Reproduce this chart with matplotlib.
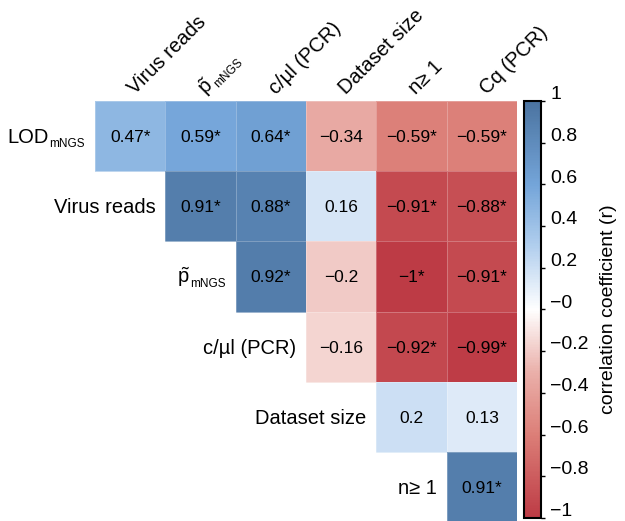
import numpy as np
import matplotlib
matplotlib.use("Agg")
import matplotlib.pyplot as plt
from matplotlib.colors import LinearSegmentedColormap
from matplotlib.transforms import offset_copy, ScaledTranslation

plt.rcParams['font.family'] = ['Liberation Sans', 'DejaVu Sans']
plt.rcParams['mathtext.fontset'] = 'custom'
plt.rcParams['mathtext.rm'] = 'Liberation Sans'
plt.rcParams['mathtext.it'] = 'Liberation Sans:italic'

# variables: (main text, subscript)
row_labels = [("LOD", "mNGS"), ("Virus reads", ""), (r"$\tilde{\mathrm{p}}$", "mNGS"),
              ("c/µl (PCR)", ""), ("Dataset size", ""), ("n≥ 1", "")]
col_labels = [("Virus reads", ""), (r"$\tilde{\mathrm{p}}$", "mNGS"), ("c/µl (PCR)", ""),
              ("Dataset size", ""), ("n≥ 1", ""), ("Cq (PCR)", "")]

# correlation coefficients (None = hidden half of the matrix)
r_lod = [0.47, 0.59, 0.64, -0.34, -0.59, -0.59]
r_reads = [None, 0.91, 0.88, 0.16, -0.91, -0.88]
r_p = [None, None, 0.92, -0.2, -1, -0.91]
r_cpcr = [None, None, None, -0.16, -0.92, -0.99]
r_size = [None, None, None, None, 0.2, 0.13]
r_n1 = [None, None, None, None, None, 0.91]

# significance flags
sig_lod = [1, 1, 1, 0, 1, 1]
sig_reads = [0, 1, 1, 0, 1, 1]
sig_p = [0, 0, 1, 0, 1, 1]
sig_cpcr = [0, 0, 0, 0, 1, 1]
sig_size = [0, 0, 0, 0, 0, 0]
sig_n1 = [0, 0, 0, 0, 0, 1]

rows = [r_lod, r_reads, r_p, r_cpcr, r_size, r_n1]
sigs = [sig_lod, sig_reads, sig_p, sig_cpcr, sig_size, sig_n1]

mat = np.ma.masked_invalid(np.array([[np.nan if v is None else v for v in r] for r in rows], dtype=float))

cmap = LinearSegmentedColormap.from_list("corr", [
    (0.0, "#bd3b45"), (0.2, "#dc7f78"), (0.35, "#eab0aa"), (0.5, "#ffffff"),
    (0.65, "#b2cfee"), (0.8, "#74a5d9"), (1.0, "#4b73a0")])

LAB_FS = 14.5
SUB_FS = 8.5

fig = plt.figure(figsize=(6.25, 5.21), dpi=100)
ax = fig.add_axes([95/625, -0.002, 422/625, 421/521])
mesh = ax.pcolormesh(mat, cmap=cmap, vmin=-1, vmax=1,
                     edgecolor=(1, 1, 1, 0.25), linewidth=0.5)
ax.set_xlim(0, 6)
ax.set_ylim(6, 0)
ax.axis('off')
renderer = fig.canvas.get_renderer()


def shifted(dx, dy):
    return offset_copy(ax.transData, fig=fig, x=dx, y=dy, units='dots')


for i, r in enumerate(rows):
    for j, v in enumerate(r):
        if v is None:
            continue
        s = f"{v:g}".replace('-', '\u2212') + ("*" if sigs[i][j] else "")
        ax.text(j + 0.5, i + 0.5, s, ha='center', va='center_baseline', fontsize=12.5)
    # row label, right aligned before the first cell of the row
    main, sub = row_labels[i]
    x, y = i - 0.14, i + 0.5
    w = 0
    if sub:
        t = ax.text(x, y, sub, fontsize=SUB_FS, ha='right', va='baseline',
                    transform=shifted(0, -11))
        w = t.get_window_extent(renderer).width + 0.5
    ax.text(x, y, main, fontsize=LAB_FS, ha='right', va='baseline',
            transform=shifted(-w, -7))

c45 = np.cos(np.pi / 4)
for j, (main, sub) in enumerate(col_labels):
    x, y = j + 0.57, -0.08
    ax.text(x, y, main, rotation=45, rotation_mode='anchor',
            ha='left', va='baseline', fontsize=LAB_FS)
    if sub:
        tmp = ax.text(0, 0, main, fontsize=LAB_FS)
        w = tmp.get_window_extent(renderer).width + 1
        tmp.remove()
        d = 4
        ax.text(x, y, sub, rotation=45, rotation_mode='anchor',
                ha='left', va='baseline', fontsize=SUB_FS,
                transform=shifted(c45 * w + c45 * d, c45 * w - c45 * d))

cax = fig.add_axes([524/625, 0.006, 17/625, 0.8])
cb = fig.colorbar(mesh, cax=cax)
ticks = np.linspace(-1, 1, 11)
cb.set_ticks(ticks)
cb.set_ticklabels(["\u22121", "\u22120.8", "\u22120.6", "\u22120.4", "\u22120.2", "\u22120",
                   "0.2", "0.4", "0.6", "0.8", "1"])
cb.ax.tick_params(labelsize=14, length=3, width=1)
for lbl in cb.ax.get_yticklabels():
    lbl.set_transform(lbl.get_transform() + ScaledTranslation(0, 6/72, fig.dpi_scale_trans))
cb.outline.set_linewidth(1.5)
cb.set_label("correlation coefficient (r)", fontsize=14, labelpad=8)

fig.savefig("out.png", dpi=100)
